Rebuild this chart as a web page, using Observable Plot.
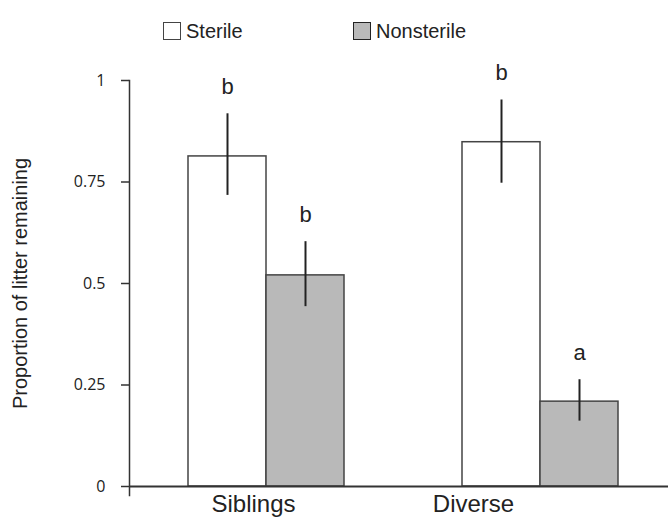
<!DOCTYPE html>
<html>
<head>
<meta charset="utf-8">
<script src="https://cdn.jsdelivr.net/npm/d3@7"></script>
<script src="https://cdn.jsdelivr.net/npm/@observablehq/plot@0.6"></script>
<style>
  html, body { margin: 0; padding: 0; background: #fff; }
  #wrap { position: relative; width: 668px; height: 526px; font-family: "Liberation Sans", Arial, sans-serif; color: #222; }
  .leg { position: absolute; top: 19px; display: flex; align-items: center; font-size: 20px; line-height: 24px; }
  .sw { width: 16px; height: 16px; border: 1.5px solid #444; margin-right: 5px; box-sizing: content-box; }
  #chart { position: absolute; left: 0; top: 0; }
</style>
</head>
<body>
<div id="wrap">
  <div id="chart"></div>
  <div class="leg" style="left:163px"><div class="sw" style="background:#ffffff"></div><span id="l0"></span></div>
  <div class="leg" style="left:353px"><div class="sw" style="background:#b9b9b9;border-color:#222"></div><span id="l1"></span></div>
</div>
<script>
const groups = ["Siblings", "Diverse"];
const treatments = ["Sterile", "Nonsterile"];
const sterileMean = [0.813, 0.848];
const sterileLow = [0.717, 0.747];
const sterileHigh = [0.918, 0.952];
const nonsterileMean = [0.520, 0.209];
const nonsterileLow = [0.443, 0.161];
const nonsterileHigh = [0.603, 0.263];
const sterileLetters = ["b", "b"];
const nonsterileLetters = ["b", "a"];
const yTicks = [0, 0.25, 0.5, 0.75, 1];
const yTickLabels = ["0", "0.25", "0.5", "0.75", "1"];
const yTitle = "Proportion of litter remaining";

const rows = groups.flatMap((g, i) => [
  {group: g, treatment: treatments[0], value: sterileMean[i], lo: sterileLow[i], hi: sterileHigh[i], letter: sterileLetters[i]},
  {group: g, treatment: treatments[1], value: nonsterileMean[i], lo: nonsterileLow[i], hi: nonsterileHigh[i], letter: nonsterileLetters[i]}
]);

document.getElementById("l0").textContent = treatments[0];
document.getElementById("l1").textContent = treatments[1];

const chart = Plot.plot({
  width: 668,
  height: 526,
  marginTop: 80,
  marginBottom: 40,
  marginLeft: 129,
  marginRight: -9,
  style: {fontFamily: "Liberation Sans, Arial, sans-serif", background: "transparent", color: "#222"},
  fx: {domain: groups, paddingInner: 0, paddingOuter: 0, axis: null},
  x: {domain: treatments, paddingInner: 0, paddingOuter: 0.756, axis: null},
  y: {domain: [0, 1], axis: null},
  color: {domain: treatments, range: ["#ffffff", "#b9b9b9"]},
  marks: [
    Plot.barY(rows, {fx: "group", x: "treatment", y: "value", fill: "treatment", stroke: "#444", strokeWidth: 1.5}),
    Plot.ruleX(rows, {fx: "group", x: "treatment", y1: "lo", y2: "hi", stroke: "#222", strokeWidth: 2}),
    Plot.text(rows, {fx: "group", x: "treatment", y: "hi", text: "letter", dy: -20, lineAnchor: "bottom", fontSize: 22, fill: "#222"}),
    Plot.ruleY([0], {stroke: "#333", strokeWidth: 2}),
    Plot.frame({anchor: "left", facetAnchor: "left", stroke: "#333", strokeWidth: 1.5, insetBottom: -9}),
    Plot.axisY(yTicks, {tickSize: 8, tickPadding: 16, tickFormat: d => yTickLabels[yTicks.indexOf(d)], fontSize: 16, fontFamily: "Open Sans", label: null, strokeWidth: 1.5, stroke: "#333", fill: "#222"}),
    Plot.text([yTitle], {fx: () => groups[0], text: d => d, frameAnchor: "left", textAnchor: "middle", rotate: -90, dx: -109, fontSize: 20, fill: "#222"}),
    Plot.text([groups[0]], {fx: d => d, text: d => d, frameAnchor: "bottom", dy: 25, dx: -13, fontSize: 24, fill: "#222"}),
    Plot.text([groups[1]], {fx: d => d, text: d => d, frameAnchor: "bottom", dy: 25, dx: -67, fontSize: 24, fill: "#222"})
  ]
});
document.getElementById("chart").appendChild(chart);
</script>
</body>
</html>
